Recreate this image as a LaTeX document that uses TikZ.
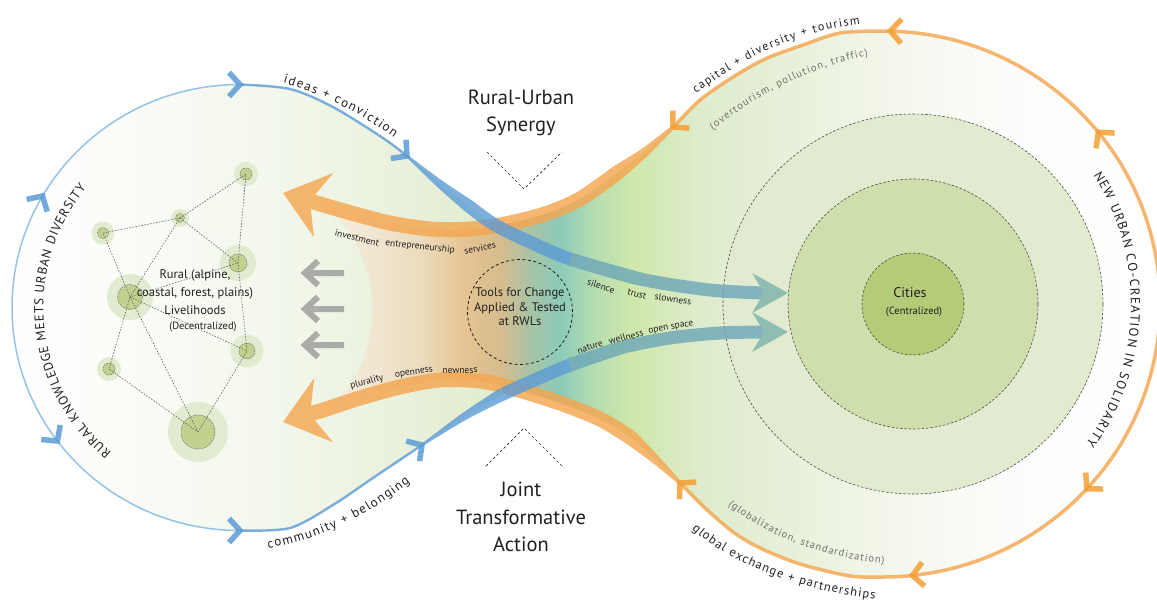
\documentclass[tikz,border=0pt]{standalone}
\usepackage{fontspec}
\setmainfont{PT Sans}
\usetikzlibrary{arrows.meta,decorations.text,positioning}

\definecolor{inkc}{RGB}{35,31,32}
\definecolor{notec}{RGB}{112,112,108}
\definecolor{bluec}{RGB}{91,155,213}
\definecolor{bluepale}{RGB}{148,195,232}
\definecolor{tealc}{RGB}{108,166,184}
\definecolor{headc}{RGB}{143,189,178}
\definecolor{orangec}{RGB}{244,166,80}
\definecolor{chevoc}{RGB}{245,158,52}
\definecolor{grayarr}{RGB}{170,172,168}
\definecolor{haloc}{RGB}{225,235,207}
\definecolor{seedc}{RGB}{192,210,142}
\definecolor{ringa}{RGB}{226,235,207}
\definecolor{ringb}{RGB}{206,222,172}
\definecolor{ringc}{RGB}{180,203,120}
\definecolor{ea}{RGB}{250,251,246}
\definecolor{eb}{RGB}{241,246,233}
\definecolor{ec}{RGB}{232,240,217}
\definecolor{ed}{RGB}{222,236,202}
\definecolor{ee}{RGB}{214,232,186}
\definecolor{ef}{RGB}{228,238,213}
\definecolor{eg}{RGB}{242,246,234}
\definecolor{eh}{RGB}{252,253,250}
\definecolor{fa}{RGB}{244,238,224}
\definecolor{fb}{RGB}{236,220,190}
\definecolor{fc}{RGB}{229,196,146}
\definecolor{fd}{RGB}{214,188,142}
\definecolor{fe}{RGB}{168,196,165}
\definecolor{ff}{RGB}{140,202,186}
\definecolor{fg}{RGB}{182,222,176}
\definecolor{fh}{RGB}{206,231,170}
\definecolor{fi}{RGB}{222,236,204}

\pgfdeclarehorizontalshading{eightshade}{100bp}{color(0bp)=(white); color(25bp)=(white); color(31.48bp)=(ea); color(37.96bp)=(eb); color(43.15bp)=(ec); color(47.47bp)=(ed); color(52.23bp)=(ee); color(57.84bp)=(ef); color(63.03bp)=(eg); color(68.22bp)=(eh); color(75bp)=(white); color(100bp)=(white)}
\pgfdeclarehorizontalshading{fanshade}{100bp}{color(0bp)=(fa); color(39.26bp)=(fa); color(43.15bp)=(fb); color(45.10bp)=(fc); color(46.61bp)=(fd); color(47.90bp)=(fe); color(49.20bp)=(ff); color(50.71bp)=(fg); color(52.23bp)=(fh); color(55.25bp)=(fi); color(57.84bp)=(ef); color(100bp)=(ef)}

\tikzset{
  ringline/.style={draw=black!70,line width=0.6pt,dash pattern=on 2.5pt off 1.8pt,line cap=butt},
  link/.style={draw=black!60,line width=0.6pt,dash pattern=on 1.6pt off 1.4pt,line cap=butt},
  seed/.style={circle,fill=seedc,draw=black!55,line width=0.5pt,dash pattern=on 1.5pt off 1.2pt,inner sep=0pt},
  vdash/.style={draw=inkc,line width=0.7pt,dash pattern=on 2.5pt off 2.5pt,line cap=butt,line join=miter},
  orline/.style={draw=orangec,line width=3.5pt},
  orband/.style={draw=orangec,line width=15pt},
  blline/.style={draw=bluec,line width=2.4pt},
  blband/.style={draw=bluec,line width=13pt},
  bchev/.style={color=bluec,opacity=.85},
  ochev/.style={color=chevoc,opacity=.85},
  chev/.pic={\draw[line width=5.5pt,line cap=butt,line join=miter] (-11,-12) -- (0,0) -- (-11,12);},
  backarrow/.pic={\draw[grayarr,line width=6pt,line cap=butt,line join=miter] (43,0) -- (4,0) (17,-12) -- (4,0) -- (17,12);},
  word/.style={font=\fontsize{9.5}{9.5}\selectfont,text=inkc,inner sep=0pt},
  title/.style={font=\fontsize{20.5}{27.5}\selectfont,text=inkc,align=center},
}

\begin{document}
\begin{tikzpicture}[line cap=round,line join=round,x=1pt,y=-1pt]
\clip (0,0) rectangle (1157,603);
\useasboundingbox (0,0) rectangle (1157,603);

\begin{scope}
\clip (240,84.5) arc[start angle=270,end angle=90,x radius=228,y radius=223]
  -- plot[smooth] coordinates {(240,530.5) (290,528) (333,505) (370,480) (422,445) (470,413) (503,394) (515,389)}
  -- plot[smooth] coordinates {(515,389) (560,403) (600,419) (630,437) (655,459) (680,483) (705,508) (733,532) (760,548) (800,564) (850,576) (883,577)}
  arc[start angle=90,end angle=-90,x radius=277,y radius=273]
  -- plot[smooth] coordinates {(883,31) (840,33) (800,46) (765,59) (733,77) (700,100) (673,127) (645,152) (617,173) (580,199) (545,214) (495,226)}
  -- plot[smooth] coordinates {(495,226) (470,207) (440,184) (407,156) (383,138) (333,107) (290,89) (240,84.5)} -- cycle;
\shade[shading=eightshade] (0,0) rectangle (1157,603);
\end{scope}

\begin{scope}
\clip (322,205) .. controls (388,255) and (388,355) .. (330,409)
  -- plot[smooth] coordinates {(330,409) (360,398) (400,387) (440,380) (480,381) (515,389) (560,403) (600,419) (630,437) (655,459) (680,483) (705,508) (733,532) (760,548)}
  -- plot[smooth] coordinates {(765,59) (733,77) (700,100) (673,127) (645,152) (617,173) (580,199) (545,214) (505,224) (470,229) (430,229) (390,223) (355,214) (322,205)} -- cycle;
\shade[shading=fanshade] (0,0) rectangle (1157,603);
\end{scope}

\node[circle,minimum size=380pt,fill=ringa,ringline] (outer) at (913,304) {};
\node[circle,minimum size=250pt,fill=ringb,ringline] (middle) at (913,304) {};
\node[circle,minimum size=102pt,fill=ringc,ringline] (core) at (913,304) {};
\node[font=\fontsize{14}{14}\selectfont,text=inkc] (cities) at (910,293) {Cities};
\node[font=\fontsize{10.5}{10.5}\selectfont,text=inkc] (central) at (914,312) {(Centralized)};

\coordinate (pa) at (246,174);
\coordinate (pb) at (180,218);
\coordinate (pc) at (103,233);
\coordinate (pd) at (238,263);
\coordinate (pe) at (130,297);
\coordinate (pf) at (247,351);
\coordinate (pg) at (109,369);
\coordinate (ph) at (198,432);
\fill[haloc] (pa) circle (12);
\fill[haloc] (pb) circle (9);
\fill[haloc] (pc) circle (11.5);
\fill[haloc] (pd) circle (18);
\fill[haloc] (pe) circle (23);
\fill[haloc] (pf) circle (16.5);
\fill[haloc] (pg) circle (12);
\fill[haloc] (ph) circle (30);
\node[seed,minimum size=12pt] (ra) at (pa) {};
\node[seed,minimum size=9pt] (rb) at (pb) {};
\node[seed,minimum size=11pt] (rc) at (pc) {};
\node[seed,minimum size=18pt] (rd) at (pd) {};
\node[seed,minimum size=25pt] (re) at (pe) {};
\node[seed,minimum size=16pt] (rf) at (pf) {};
\node[seed,minimum size=12pt] (rg) at (pg) {};
\node[seed,minimum size=34pt] (rh) at (ph) {};
\draw[link] (rc.center) -- (rb.center) -- (ra.center) -- (rd.center) -- (rf.center) -- (rh.center) -- (rg.center) -- (re.center) -- (rc.center);
\draw[link] (rb.center) -- (rd.center) -- (re.center) -- (rb.center);
\draw[link] (re.center) -- (rf.center);
\draw[link] (re.center) -- (rh.center);
\node[font=\fontsize{12.5}{18}\selectfont,text=inkc,align=center] (rural) at (195,292) {Rural (alpine,\\coastal, forest, plains)\\Livelihoods};
\node[font=\fontsize{10.5}{10.5}\selectfont,text=inkc] (decentral) at (203,327) {(Decentralized)};

\pic at (301,273) {backarrow};
\pic at (301,309) {backarrow};
\pic at (301,345) {backarrow};

\node[circle,minimum size=105pt,draw=inkc,line width=.8pt,dash pattern=on 3pt off 2.5pt,line cap=butt] (tools) at (520,312) {};
\node[font=\fontsize{12.5}{14.5}\selectfont,text=inkc,align=center] (toolstext) at (520,307) {Tools for Change\\Applied \& Tested\\at RWLs};

\begin{scope}[transparency group,opacity=.82]
\draw[orline] (883,31) arc[start angle=-90,end angle=90,x radius=277,y radius=273];
\draw[orline] plot[smooth] coordinates {(883,31) (840,33) (800,46) (765,59) (733,77) (700,100) (673,127) (645,152)};
\draw[orline] plot[smooth] coordinates {(883,577) (850,576) (800,564) (760,548) (733,532) (705,508) (680,483) (655,459)};
\fill[orangec] plot[smooth] coordinates {(674.2,128.3) (648,155.4) (621.4,179.1)} -- plot[smooth] coordinates {(612.6,166.9) (642,148.6) (671.8,125.7)} -- cycle;
\fill[orangec] plot[smooth] coordinates {(681.2,481.7) (658.1,455.8) (634.7,431.2)} -- plot[smooth] coordinates {(625.3,442.9) (651.9,462.2) (678.8,484.3)} -- cycle;
\draw[orband,-{Stealth[length=42pt,width=66pt,inset=14pt]}] plot[smooth] coordinates {(617,173) (580,199) (545,214) (505,224) (470,229) (430,229) (390,223) (355,214) (320,204) (283,193)};
\draw[orband,-{Stealth[length=42pt,width=66pt,inset=14pt]}] plot[smooth] coordinates {(630,437) (600,419) (560,403) (515,389) (480,381) (440,380) (400,387) (360,398) (320,411) (283,422)};
\end{scope}

\draw[draw=bluepale,line width=1.5pt] (240,84.5) arc[start angle=270,end angle=90,x radius=228,y radius=223];
\begin{scope}[transparency group,opacity=.8]
\draw[blline] plot[smooth] coordinates {(240,84.5) (290,89) (333,107) (383,138) (407,156)};
\draw[blline] plot[smooth] coordinates {(240,530.5) (290,528) (333,505) (370,480) (422,445)};
\fill[bluec] plot[smooth] coordinates {(407.8,155.1) (442.5,180.9) (474.1,201.9)} -- plot[smooth] coordinates {(465.9,212.1) (437.5,187.1) (406.2,156.9)} -- cycle;
\fill[bluec] plot[smooth] coordinates {(421.3,444) (462.9,412.8) (499.4,388.6)} -- plot[smooth] coordinates {(506.6,399.4) (467.1,419.2) (422.7,446)} -- cycle;
\draw[blband] plot[smooth] coordinates {(470,207) (495,225) (530,242) (570,259) (640,279)};
\draw[blband] plot[smooth] coordinates {(503,394) (530,382) (570,365) (620,348)};
\draw[blband,draw=tealc] plot[smooth] coordinates {(570,259) (640,279) (710,290) (765,293)};
\draw[blband,draw=tealc] plot[smooth] coordinates {(570,365) (620,348) (670,338) (720,333) (765,332)};
\end{scope}
\fill[headc] (788,293) -- (752,273) -- (764,293) -- (752,313) -- cycle;
\fill[headc] (788,332) -- (752,312) -- (764,332) -- (752,352) -- cycle;

\pic[bchev,rotate=0] at (240,84.5) {chev};
\pic[bchev,rotate=59.4] at (42.5,196) {chev};
\pic[bchev,rotate=-52.6] at (57.4,441) {chev};
\pic[bchev,rotate=0] at (240,530.5) {chev};
\pic[bchev,rotate=-38.9] at (407,156) {chev};
\pic[bchev,rotate=33.8] at (422,445) {chev};
\pic[ochev,rotate=178.5] at (890.3,31) {chev};
\pic[ochev,rotate=129.4] at (1098.3,132.2) {chev};
\pic[ochev,rotate=-133.3] at (1086.9,488.8) {chev};
\pic[ochev,rotate=186] at (912.4,575.4) {chev};
\pic[ochev,rotate=223.4] at (673,127) {chev};
\pic[ochev,rotate=135.6] at (680,483) {chev};

\node[word,rotate=-14] (w1) at (357,238) {investment};
\node[word,rotate=-6] (w2) at (420,247) {entrepreneurship};
\node[word,rotate=11] (w3) at (480,248) {services};
\node[word,rotate=-18] (w4) at (601,286) {silence};
\node[word,rotate=-14] (w5) at (637,294) {trust};
\node[word,rotate=-8] (w6) at (673,299) {slowness};
\node[word,rotate=19] (w7) at (590,347) {nature};
\node[word,rotate=14] (w8) at (626,337) {wellness};
\node[word,rotate=10] (w9) at (671,328) {open space};
\node[word,rotate=15] (w10) at (367,382) {plurality};
\node[word,rotate=8] (w11) at (414,373) {openness};
\node[word,rotate=2] (w12) at (460,371) {newness};

\node[title] (synergy) at (521,113) {Rural-Urban\\Synergy};
\draw[vdash] (487,152) -- (524,189) -- (562,152);
\node[title] (joint) at (521,517) {Joint\\Transformative\\Action};
\draw[vdash] (486,466) -- (524,428) -- (562,466);

\path[decorate,decoration={text along path,text align={fit to path},text color=inkc,
  text={|\fontsize{13}{13}\selectfont|RURAL KNOWLEDGE MEETS URBAN DIVERSITY}}]
  (111.6,452.3) arc[start angle=130.7,end angle=218.6,x radius=196,y radius=191];
\path[decorate,decoration={text along path,text align={fit to path},text color=inkc,
  text={|\fontsize{13}{13}\selectfont|NEW URBAN CO-CREATION IN SOLIDARITY}}]
  (1093.3,175.2) arc[start angle=-32,end angle=35,x radius=248,y radius=243];
\path[decorate,decoration={text along path,text align={fit to path},text color=inkc,
  text={|\fontsize{13}{13}\selectfont|ideas + conviction}}]
  (283,83) .. controls (318,93) and (360,112) .. (394,138);
\path[decorate,decoration={text along path,text align={fit to path},text color=inkc,
  text={|\fontsize{13}{13}\selectfont|community + belonging}}]
  (268,548) .. controls (310,542) and (360,522) .. (410,482);
\path[decorate,decoration={text along path,text align={fit to path},text color=inkc,
  text={|\fontsize{12}{12}\selectfont|capital + diversity + tourism}}]
  (696,94) .. controls (735,64) and (790,32) .. (860,24);
\path[decorate,decoration={text along path,text align={fit to path},text color=notec,
  text={|\fontsize{10.5}{10.5}\selectfont|(overtourism, pollution, traffic)}}]
  (713,130) .. controls (750,100) and (800,70) .. (868,56);
\path[decorate,decoration={text along path,text align={fit to path},text color=notec,
  text={|\fontsize{10.5}{10.5}\selectfont|(globalization, standardization)}}]
  (728,505) .. controls (768,536) and (818,556) .. (884,564);
\path[decorate,decoration={text along path,text align={fit to path},text color=inkc,
  text={|\fontsize{12.5}{12.5}\selectfont|global exchange + partnerships}}]
  (692,529) .. controls (730,562) and (790,589) .. (875,599);
\end{tikzpicture}
\end{document}
